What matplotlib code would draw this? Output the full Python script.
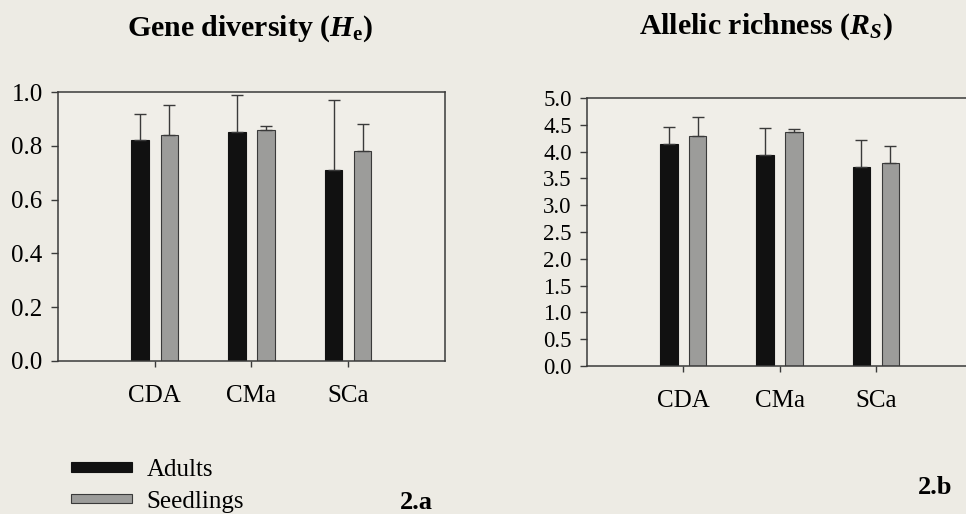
import numpy as np
import matplotlib.pyplot as plt
from matplotlib.patches import Patch

# ---- data ----
sites = ["CDA", "CMa", "SCa"]

he_adults = [0.82, 0.85, 0.71]
he_adults_sd = [0.10, 0.14, 0.26]
he_seedlings = [0.84, 0.86, 0.78]
he_seedlings_sd = [0.11, 0.013, 0.10]

rs_adults = [4.14, 3.93, 3.71]
rs_adults_sd = [0.32, 0.51, 0.51]
rs_seedlings = [4.30, 4.36, 3.78]
rs_seedlings_sd = [0.35, 0.07, 0.32]

# ---- style ----
plt.rcParams["font.family"] = ["Liberation Serif", "DejaVu Serif"]
plt.rcParams["mathtext.fontset"] = "custom"
plt.rcParams["mathtext.rm"] = "Liberation Serif:bold"
plt.rcParams["mathtext.it"] = "Liberation Serif:italic:bold"
plt.rcParams["mathtext.bf"] = "Liberation Serif:bold"

BG = "#edebe4"
PANEL = "#f0eee8"
BLACK = "#111111"
GREY = "#9c9c9a"
EDGE = "#3a3a3a"

fig = plt.figure(figsize=(9.66, 5.14), dpi=100, facecolor=BG)
ax1 = fig.add_axes([0.060, 0.2977, 0.4006, 0.5233])
ax2 = fig.add_axes([0.6077, 0.2879, 0.3986, 0.5214])

x = np.arange(1, len(sites) + 1)
w = 0.18
off = 0.15


def draw_panel(ax, adults, adults_sd, seedlings, seedlings_sd, ymax, step, tick_fs):
    ax.set_facecolor(PANEL)
    zeros = np.zeros(len(adults))
    ax.bar(x - off, adults, w, color=BLACK, edgecolor=BLACK, linewidth=0.8,
           yerr=[zeros, adults_sd], zorder=2,
           error_kw=dict(ecolor=EDGE, elinewidth=1.0, capsize=4, capthick=1.0))
    ax.bar(x + off, seedlings, w, color=GREY, edgecolor=EDGE, linewidth=0.8,
           yerr=[zeros, seedlings_sd], zorder=2,
           error_kw=dict(ecolor=EDGE, elinewidth=1.0, capsize=4, capthick=1.0))
    ax.set_xlim(0, 4)
    ax.set_ylim(0, ymax)
    ticks = np.arange(0, ymax + step / 2, step)
    ax.set_yticks(ticks)
    ax.set_yticklabels([f"{v:.1f}" for v in ticks])
    ax.set_xticks(x)
    ax.set_xticklabels(sites, fontsize=18)
    ax.tick_params(axis="y", direction="out", length=5, width=1, color=EDGE,
                   labelsize=tick_fs, pad=6)
    ax.tick_params(axis="x", direction="out", length=4, width=1, color=EDGE, pad=13)
    for s in ax.spines.values():
        s.set_color(EDGE)
        s.set_linewidth(1.1)


draw_panel(ax1, he_adults, he_adults_sd, he_seedlings, he_seedlings_sd, 1.0, 0.2, 18)
draw_panel(ax2, rs_adults, rs_adults_sd, rs_seedlings, rs_seedlings_sd, 5.0, 0.5, 16.5)

fig.text(0.259, 0.945, r"Gene diversity ($H_{\mathbf{e}}$)", ha="center", va="center",
         fontsize=21.5, fontweight="bold")
fig.text(0.793, 0.948, r"Allelic richness ($R_S$)", ha="center", va="center",
         fontsize=21.5, fontweight="bold")

handles = [Patch(facecolor=BLACK, edgecolor=BLACK, linewidth=0.8),
           Patch(facecolor=GREY, edgecolor=EDGE, linewidth=0.8)]
fig.legend(handles, ["Adults", "Seedlings"], loc="upper left",
           bbox_to_anchor=(0.073, 0.107), frameon=False, fontsize=18,
           handlelength=2.45, handleheight=0.22, handletextpad=0.6,
           labelspacing=0.38, borderpad=0, borderaxespad=0)

fig.text(0.431, 0.023, "2.a", ha="center", va="center", fontsize=19, fontweight="bold")
fig.text(0.968, 0.051, "2.b", ha="center", va="center", fontsize=19, fontweight="bold")

fig.savefig("out.png", dpi=100, facecolor=BG)
